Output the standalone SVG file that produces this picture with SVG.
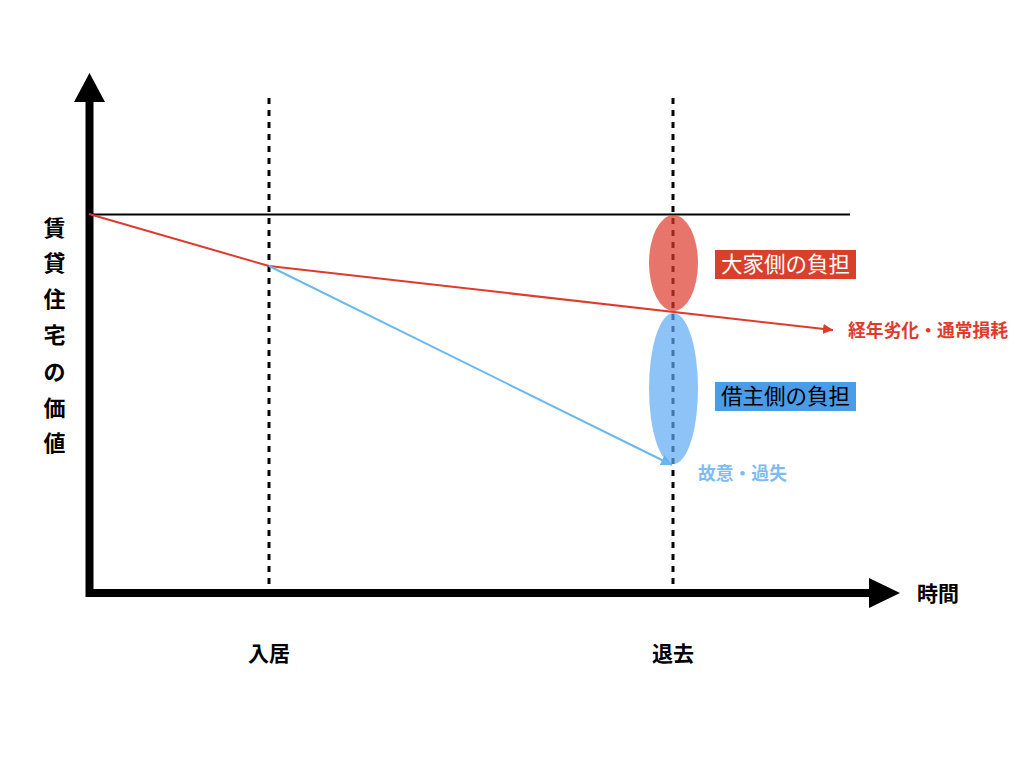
<svg xmlns="http://www.w3.org/2000/svg" width="1024" height="768" viewBox="0 0 1024 768">
<style>
.jp{font-family:"Noto Sans CJK JP","Noto Sans CJK SC",sans-serif;}
.b{font-weight:bold;}
.dash{stroke:#000;stroke-width:3;stroke-dasharray:6 6;fill:none;}
.axis{stroke:#000;stroke-width:8;fill:none;}
</style>
<defs>
<marker id="ar" viewBox="0 0 10 10" refX="10" refY="5" markerWidth="10" markerHeight="10" markerUnits="userSpaceOnUse" orient="auto">
<path d="M0,0 L10,5 L0,10 z" fill="#de3b2c"/>
</marker>
<marker id="ab" viewBox="0 0 10 10" refX="10" refY="5" markerWidth="11" markerHeight="11" markerUnits="userSpaceOnUse" orient="auto">
<path d="M0,0 L10,5 L0,10 z" fill="#6ab8f0"/>
</marker>
</defs>
<rect width="1024" height="768" fill="#fff"/>
<g id="axes">
<path class="axis" d="M89.5,100 V593 H872"/>
<path d="M74,102 L89.5,73 L105,102 z" fill="#000"/>
<path d="M869,578 L900,593 L869,608 z" fill="#000"/>
</g>
<g id="guides">
<line class="dash" x1="269" y1="98" x2="269" y2="592"/>
<line class="dash" x1="673" y1="98" x2="673" y2="592"/>
<line x1="89" y1="214.5" x2="850" y2="214.5" stroke="#000" stroke-width="2"/>
</g>
<g id="connectors">
<polyline points="89,214 269,266 833,330" fill="none" stroke="#de3b2c" stroke-width="2" marker-end="url(#ar)"/>
<line x1="269" y1="266" x2="672" y2="465" stroke="#6ab8f0" stroke-width="2" marker-end="url(#ab)"/>
</g>
<g id="owner-burden">
<ellipse cx="673.5" cy="263" rx="24.5" ry="48" fill="#de3b2c" fill-opacity="0.7"/>
<rect x="715" y="250" width="141" height="29" fill="#d9402b"/>
<text class="jp" x="785.5" y="272" font-size="21.5" fill="#fff" text-anchor="middle">大家側の負担</text>
</g>
<g id="tenant-burden">
<ellipse cx="673.5" cy="388.5" rx="24.5" ry="75.5" fill="#5ea9f4" fill-opacity="0.7"/>
<rect x="715" y="382" width="141" height="29" fill="#4a9be8"/>
<text class="jp" x="785.5" y="404" font-size="21.5" fill="#000" text-anchor="middle">借主側の負担</text>
</g>
<g id="label-wear">
<text class="jp b" x="848" y="337" font-size="17.8" fill="#de3b2c">経年劣化・通常損耗</text>
</g>
<g id="label-fault">
<text class="jp b" x="698" y="480" font-size="17.8" fill="#7ebcf0">故意・過失</text>
</g>
<g id="y-label" class="jp b" font-size="22" fill="#000" text-anchor="middle">
<text x="54.5" y="236">賃</text>
<text x="54.5" y="271">貸</text>
<text x="54.5" y="307">住</text>
<text x="54.5" y="343">宅</text>
<text x="54.5" y="380">の</text>
<text x="54.5" y="416">価</text>
<text x="54.5" y="451">値</text>
</g>
<g id="x-label">
<text class="jp b" x="938" y="601" font-size="21" fill="#000" text-anchor="middle">時間</text>
</g>
<g id="tick-labels" class="jp b" font-size="21" fill="#000" text-anchor="middle">
<text x="269" y="661">入居</text>
<text x="673" y="661">退去</text>
</g>
</svg>
